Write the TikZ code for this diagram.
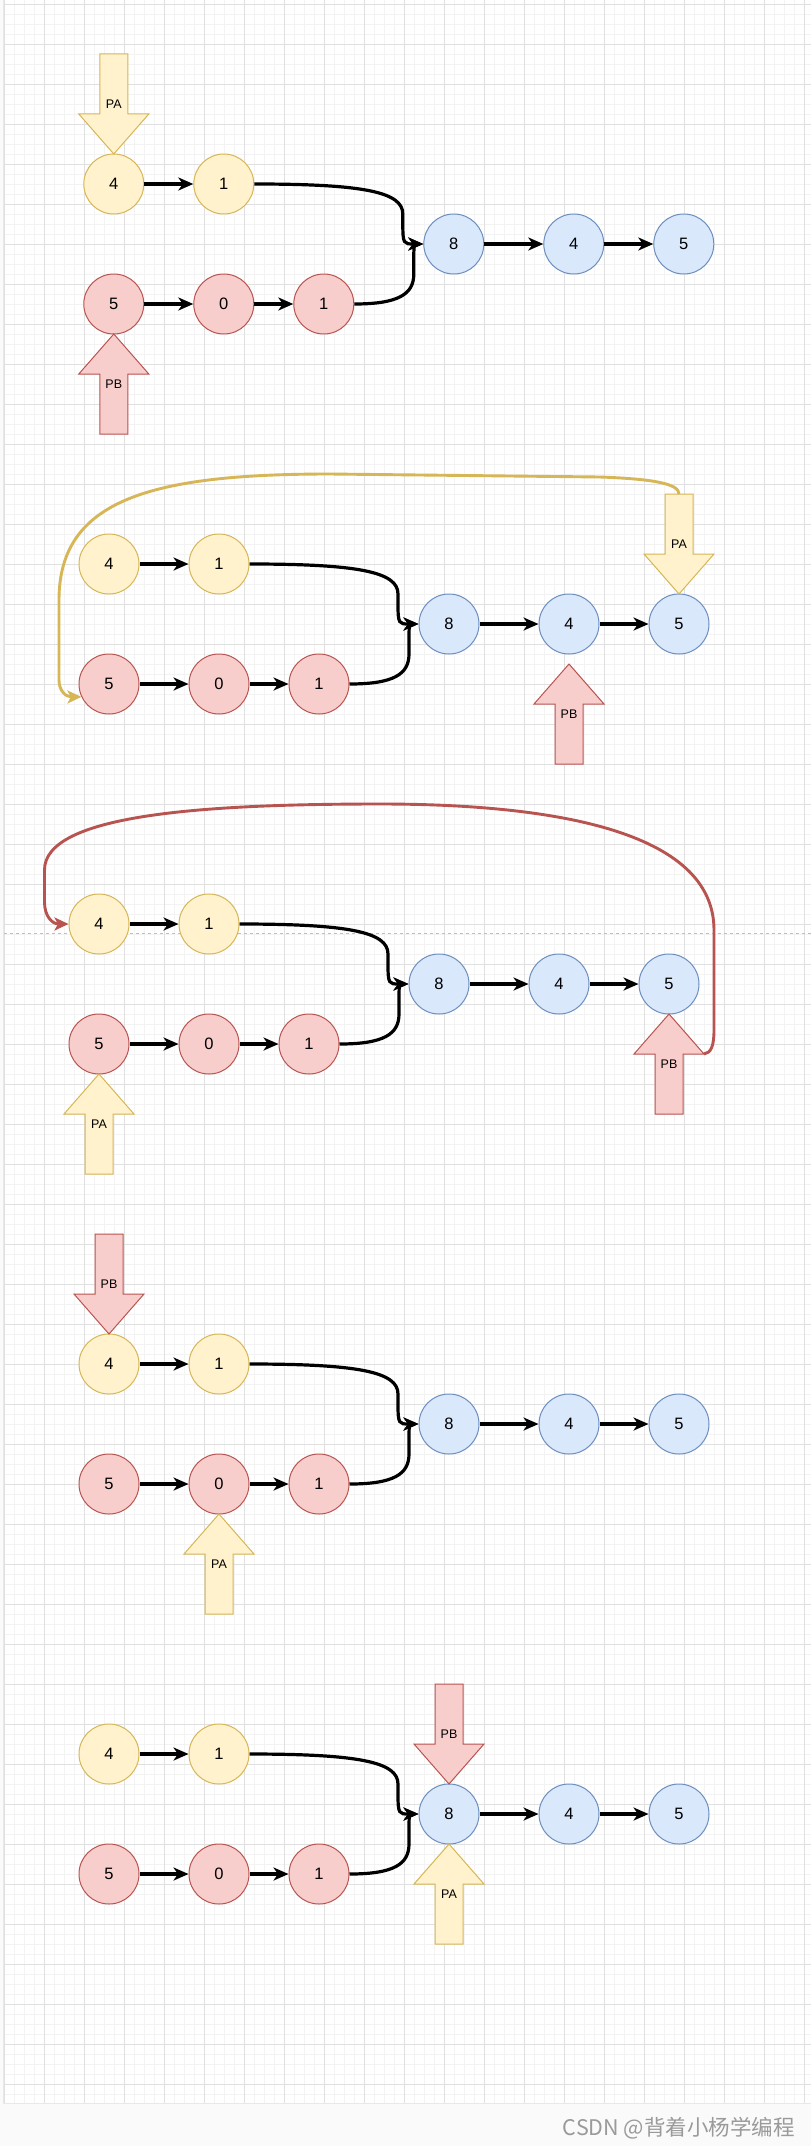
\documentclass[tikz,border=0pt]{standalone}
\usepackage{fontspec}
\setmainfont{Liberation Sans}
\newfontfamily\cjkfont{Noto Sans CJK SC}
\usetikzlibrary{arrows.meta}

\definecolor{ylwfill}{HTML}{FFF2CC}
\definecolor{ylwline}{HTML}{D6B656}
\definecolor{redfill}{HTML}{F8CECC}
\definecolor{redline}{HTML}{B85450}
\definecolor{blufill}{HTML}{DAE8FC}
\definecolor{bluline}{HTML}{6C8EBF}
\definecolor{gridminor}{HTML}{F3F3F3}
\definecolor{gridmajor}{HTML}{E0E0E0}
\definecolor{pagebg}{HTML}{FAFAFA}
\definecolor{markgray}{HTML}{9A9A9A}

\begin{document}
\begin{tikzpicture}[
  x=1pt, y=-1pt,
  elem/.style={circle, draw, line width=1pt, minimum size=60pt, inner sep=0pt, font=\fontsize{16.5}{18}\selectfont},
  lista/.style={elem, fill=ylwfill, draw=ylwline},
  listb/.style={elem, fill=redfill, draw=redline},
  common/.style={elem, fill=blufill, draw=bluline},
  nextarrow/.style={-{Stealth[length=15pt,width=13pt,inset=4.5pt]}, line width=3.2pt},
  ptra/.style={fill=ylwfill, draw=ylwline, line width=1pt},
  ptrb/.style={fill=redfill, draw=redline, line width=1pt},
  ptrlabel/.style={font=\fontsize{12.5}{14}\selectfont, inner sep=0pt},
  jump/.style={-{Stealth[length=14pt,width=13pt,inset=3.5pt]}, line width=2.9pt},
  minorline/.style={draw=gridminor, line width=1pt},
  majorline/.style={draw=gridmajor, line width=1pt}
]
  \useasboundingbox (0,0) rectangle (811,2146);

  % Canvas and grid
  \fill[pagebg] (0,0) rectangle (811,2146);
  \fill[white] (4,0) rectangle (811,2103);
  \foreach \gx in {0,...,80} \draw[minorline] ({4.7+10*\gx},0) -- ({4.7+10*\gx},2103);
  \foreach \gy in {0,...,209} \draw[minorline] (4,{4.3+10*\gy}) -- (811,{4.3+10*\gy});
  \foreach \gx in {0,...,20} \draw[majorline] ({4.7+40*\gx},0) -- ({4.7+40*\gx},2103);
  \foreach \gy in {0,...,52} \draw[majorline] (4,{4.3+40*\gy}) -- (811,{4.3+40*\gy});
  \draw[draw=gridmajor!80!black!30, line width=1pt] (3.5,0) -- (3.5,2103.5) -- (811,2103.5);
  \draw[draw=black!25, dash pattern=on 3pt off 3pt] (4,933) -- (811,933);

  % Lists A, B and the shared tail, one row per step
  \foreach \p/\x/\y in {1/113.8/184, 2/109/564, 3/99/924, 4/109/1364, 5/109/1754} {
    \node[lista] (a4-\p) at (\x,\y) {4};
    \node[lista] (a1-\p) at ({\x+110},\y) {1};
    \node[listb] (b5-\p) at (\x,{\y+120}) {5};
    \node[listb] (b0-\p) at ({\x+110},{\y+120}) {0};
    \node[listb] (b1-\p) at ({\x+210},{\y+120}) {1};
    \node[common] (c8-\p) at ({\x+340},{\y+60}) {8};
    \node[common] (c4-\p) at ({\x+460},{\y+60}) {4};
    \node[common] (c5-\p) at ({\x+570},{\y+60}) {5};
    \draw[nextarrow] (a4-\p) -- (a1-\p);
    \draw[nextarrow] (b5-\p) -- (b0-\p);
    \draw[nextarrow] (b0-\p) -- (b1-\p);
    \draw[nextarrow] (c8-\p) -- (c4-\p);
    \draw[nextarrow] (c4-\p) -- (c5-\p);
    \draw[nextarrow] (a1-\p.east) .. controls ({\x+250},\y) and ({\x+289},{\y+8}) .. ({\x+289},{\y+30})
      -- ({\x+289},{\y+40}) .. controls ({\x+289},{\y+60}) and ({\x+290},{\y+60}) .. (c8-\p.west);
    \draw[nextarrow] (b1-\p.east) .. controls ({\x+285},{\y+120}) and ({\x+300},{\y+110}) .. ({\x+300},{\y+90})
      -- ({\x+300},{\y+72}) .. controls ({\x+300},{\y+61}) and ({\x+301},{\y+60}) .. (c8-\p.west);
  }

  % Pointers PA / PB (tip, direction: 1 = down, -1 = up)
  \foreach \n/\x/\t/\d/\s/\l in {pa1/113.8/154/1/ptra/PA, pb1/113.8/334/-1/ptrb/PB,
      pa2/679/594/1/ptra/PA, pb2/569/664/-1/ptrb/PB,
      pa3/99/1074/-1/ptra/PA, pb3/669/1014/-1/ptrb/PB,
      pb4/109/1334/1/ptrb/PB, pa4/219/1514/-1/ptra/PA,
      pb5/449/1784/1/ptrb/PB, pa5/449/1844/-1/ptra/PA} {
    \draw[\s] (\x,\t) -- ++(-35,{-40*\d}) -- ++(21,0) -- ++(0,{-60*\d}) -- ++(28,0)
      -- ++(0,{60*\d}) -- ++(21,0) -- cycle;
    \node[ptrlabel] (\n) at (\x,{\t-50*\d}) {\l};
    \coordinate (\n-tail) at (\x,{\t-100*\d});
    \coordinate (\n-wing) at ({\x+35},{\t-40*\d});
  }

  % PA jumps to list B, PB jumps to list A
  \draw[jump, draw=ylwline] (pa2-tail) .. controls (679,484) and (655,479) .. (600,477) -- (330,474)
    .. controls (150,474) and (59,500) .. (59,600) -- (59,680)
    .. controls (59,691) and (66,697) .. (b5-2.205);
  \draw[jump, draw=redline] (pb3-wing) .. controls (711,1053) and (714,1046) .. (714,1030) -- (714,930)
    .. controls (714,830) and (550,804) .. (380,804) .. controls (200,804) and (44.5,815) .. (44.5,870)
    -- (44.5,902) .. controls (44.5,916) and (52,924) .. (a4-3.west);

  \node[anchor=east, inner sep=0pt, text=markgray, font=\cjkfont\fontsize{21.5}{24}\selectfont] (mark) at (795,2128) {CSDN @背着小杨学编程};
\end{tikzpicture}
\end{document}
